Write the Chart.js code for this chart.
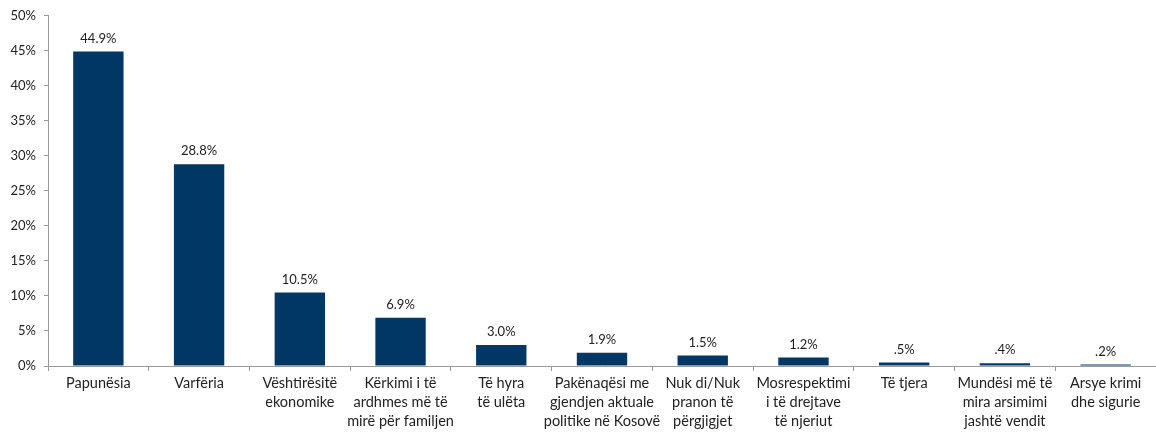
<!DOCTYPE html>
<html>
<head>
<meta charset="utf-8">
<script src="https://cdn.jsdelivr.net/npm/chart.js@4"></script>
<style>
  html, body { margin: 0; padding: 0; background: #fff; overflow: hidden; }
  #wrap { width: 1156px; height: 437px; }
</style>
</head>
<body>
<div id="wrap"><canvas id="chart"></canvas></div>
<script>
// Kategoritë (rreshta të ndarë për etiketat e boshtit)
const categories = [
    ['Papunësia'],
    ['Varfëria'],
    ['Vështirësitë', 'ekonomike'],
    ['Kërkimi i të', 'ardhmes më të', 'mirë për familjen'],
    ['Të hyra', 'të ulëta'],
    ['Pakënaqësi me', 'gjendjen aktuale', 'politike në Kosovë'],
    ['Nuk di/Nuk', 'pranon të', 'përgjigjet'],
    ['Mosrespektimi', 'i të drejtave', 'të njeriut'],
    ['Të tjera'],
    ['Mundësi më të', 'mira arsimimi', 'jashtë vendit'],
    ['Arsye krimi', 'dhe sigurie']
];

const values = [44.9, 28.8, 10.5, 6.9, 3.0, 1.9, 1.5, 1.2, 0.5, 0.4, 0.2];
const valueLabels = ['44.9%', '28.8%', '10.5%', '6.9%', '3.0%', '1.9%', '1.5%', '1.2%', '.5%', '.4%', '.2%'];

const yTicks = [0, 5, 10, 15, 20, 25, 30, 35, 40, 45, 50];

const FONT = 'Lato, "Open Sans", sans-serif';

// etiketat mbi shtylla
const barLabels = {
    id: 'barLabels',
    afterDatasetsDraw(chart) {
        const ctx = chart.ctx;
        const meta = chart.getDatasetMeta(0);
        ctx.save();
        ctx.font = '13px ' + FONT;
        ctx.fillStyle = '#222';
        ctx.textAlign = 'center';
        ctx.textBaseline = 'middle';
        meta.data.forEach((bar, i) => {
            ctx.fillText(valueLabels[i], bar.x, bar.y - 13);
        });
        ctx.restore();
    }
};

const ctx = document.getElementById('chart').getContext('2d');
new Chart(ctx, {
    type: 'bar',
    data: {
        labels: categories,
        datasets: [{
            data: values,
            backgroundColor: '#013764',
            barPercentage: 0.5,
            categoryPercentage: 1
        }]
    },
    options: {
        responsive: true,
        maintainAspectRatio: false,
        animation: false,
        layout: { padding: { top: 14, right: 0, left: 0, bottom: 0 } },
        plugins: {
            legend: { display: false },
            tooltip: { enabled: false }
        },
        scales: {
            x: {
                grid: { drawOnChartArea: false, tickLength: 5, color: '#9a9a9a' },
                border: { color: '#9a9a9a', width: 1 },
                ticks: {
                    color: '#222',
                    font: { family: FONT, size: 14.5, lineHeight: 1.31 },
                    maxRotation: 0,
                    autoSkip: false,
                    padding: 3
                },
                afterFit(scale) { scale.height = 71; }
            },
            y: {
                min: 0,
                max: 50,
                afterBuildTicks(scale) {
                    scale.ticks = yTicks.map(v => ({ value: v }));
                },
                grid: { drawOnChartArea: false, tickLength: 4, color: '#9a9a9a' },
                border: { color: '#9a9a9a', width: 1 },
                ticks: {
                    color: '#222',
                    font: { family: FONT, size: 13 },
                    padding: 8,
                    callback: v => v + '%'
                },
                afterFit(scale) { scale.width = 48; }
            }
        }
    },
    plugins: [barLabels]
});
</script>
</body>
</html>
